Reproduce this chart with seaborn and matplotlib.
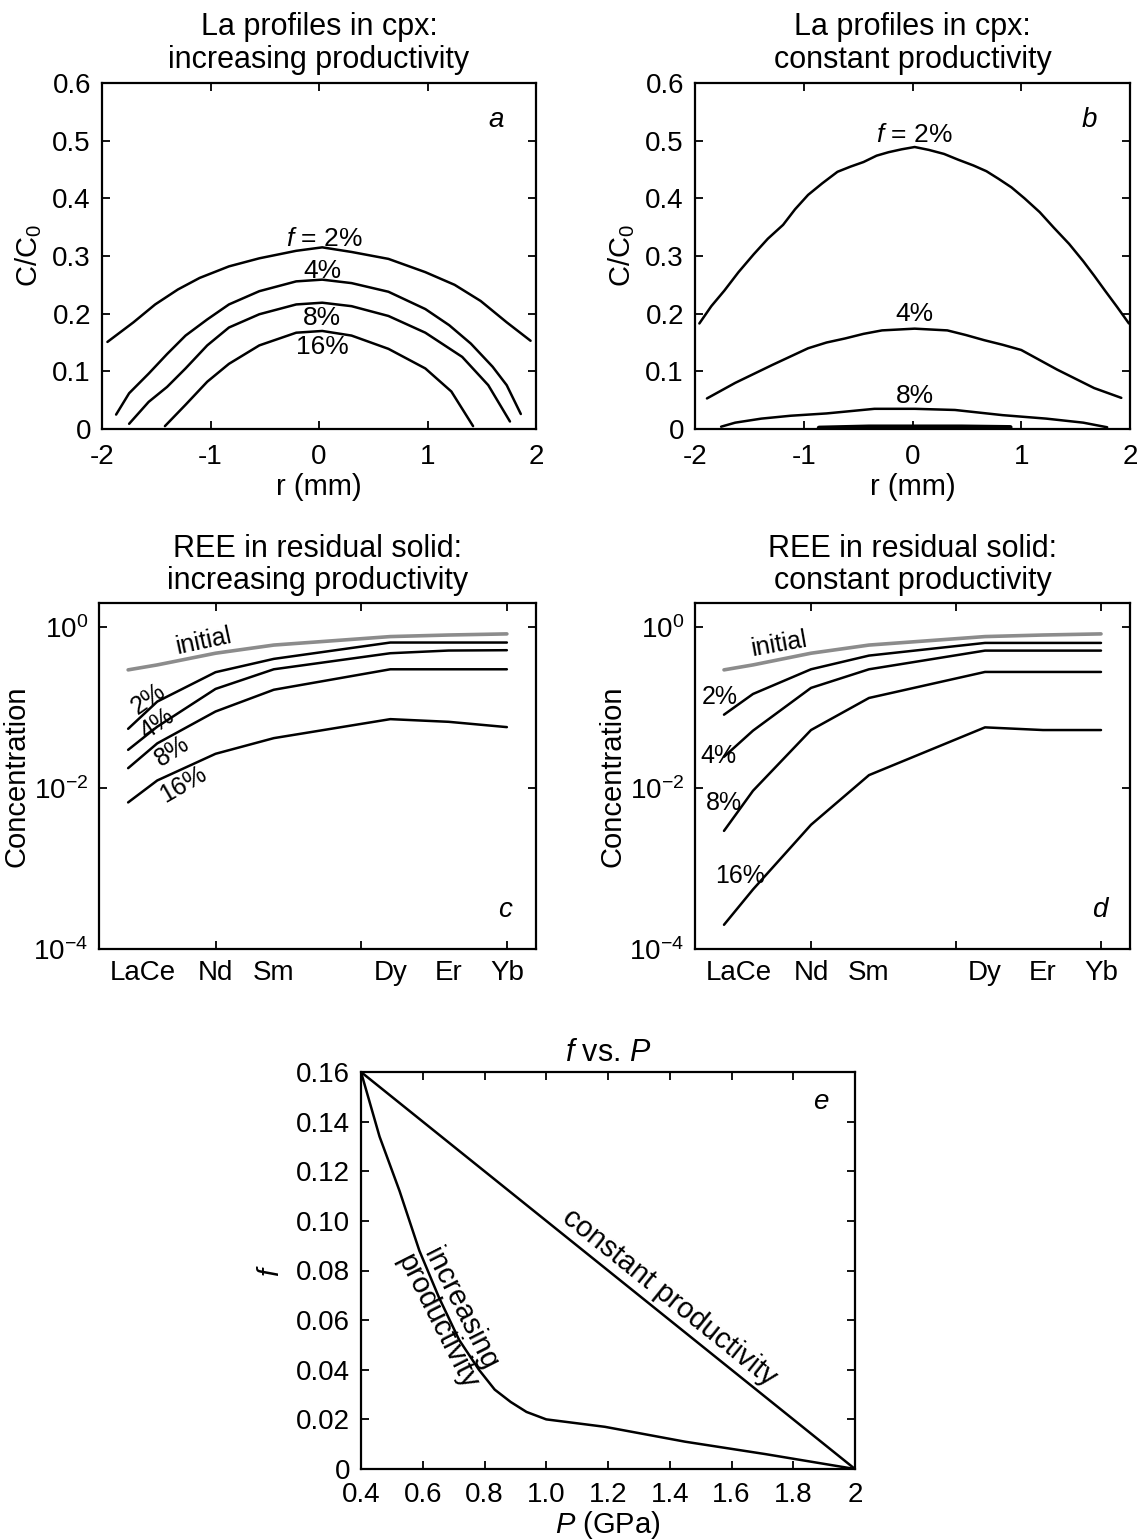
import numpy as np
import pandas as pd
import matplotlib
matplotlib.use("Agg")
import matplotlib.pyplot as plt
import seaborn as sns

# ---------------- data ----------------
# panel a: La profiles, increasing productivity
a_r_2 = [-1.95, -1.71, -1.51, -1.30, -1.10, -0.83, -0.55, -0.21, 0.03, 0.30, 0.64, 0.98, 1.25, 1.49, 1.73, 1.95]
a_c_2 = [0.151, 0.185, 0.216, 0.242, 0.262, 0.282, 0.296, 0.309, 0.315, 0.307, 0.295, 0.272, 0.250, 0.222, 0.185, 0.153]
a_r_4 = [-1.87, -1.75, -1.57, -1.40, -1.23, -1.03, -0.83, -0.55, -0.21, 0.03, 0.30, 0.64, 0.98, 1.20, 1.40, 1.60, 1.73, 1.86]
a_c_4 = [0.025, 0.062, 0.096, 0.130, 0.162, 0.190, 0.216, 0.239, 0.256, 0.259, 0.253, 0.238, 0.208, 0.180, 0.148, 0.108, 0.076, 0.026]
a_r_8 = [-1.75, -1.57, -1.40, -1.23, -1.03, -0.83, -0.55, -0.21, 0.03, 0.30, 0.64, 0.98, 1.32, 1.56, 1.76]
a_c_8 = [0.009, 0.047, 0.073, 0.105, 0.145, 0.176, 0.199, 0.216, 0.219, 0.213, 0.196, 0.167, 0.125, 0.076, 0.013]
a_r_16 = [-1.42, -1.23, -1.03, -0.83, -0.55, -0.21, 0.03, 0.30, 0.64, 0.98, 1.22, 1.42]
a_c_16 = [0.005, 0.042, 0.082, 0.113, 0.145, 0.167, 0.170, 0.162, 0.139, 0.105, 0.065, 0.005]

# panel b: La profiles, constant productivity
b_r_2 = [-1.96, -1.85, -1.73, -1.60, -1.46, -1.33, -1.19, -1.08, -0.96, -0.83, -0.69, -0.57, -0.45, -0.33, -0.22,
         -0.10, 0.02, 0.15, 0.29, 0.42, 0.56, 0.68, 0.79, 0.91, 1.03, 1.17, 1.30, 1.44, 1.57, 1.67, 1.77, 1.88, 1.99]
b_c_2 = [0.183, 0.213, 0.240, 0.272, 0.303, 0.330, 0.354, 0.381, 0.406, 0.426, 0.446, 0.455, 0.463, 0.474, 0.480,
         0.485, 0.489, 0.484, 0.477, 0.467, 0.457, 0.447, 0.434, 0.419, 0.400, 0.376, 0.349, 0.321, 0.291, 0.266, 0.240, 0.212, 0.183]
b_r_4 = [-1.89, -1.63, -1.29, -0.96, -0.79, -0.62, -0.45, -0.28, 0.02, 0.32, 0.49, 0.66, 0.83, 1.00, 1.33, 1.67, 1.92]
b_c_4 = [0.053, 0.080, 0.111, 0.140, 0.150, 0.157, 0.165, 0.171, 0.174, 0.171, 0.163, 0.154, 0.146, 0.137, 0.103, 0.071, 0.054]
b_r_8 = [-1.76, -1.63, -1.39, -1.12, -0.79, -0.35, 0.02, 0.39, 0.83, 1.23, 1.57, 1.79]
b_c_8 = [0.004, 0.011, 0.018, 0.023, 0.027, 0.035, 0.035, 0.033, 0.024, 0.018, 0.011, 0.003]
b_r_16 = [-0.86, -0.40, 0.02, 0.45, 0.90]
b_c_16 = [0.002, 0.004, 0.004, 0.004, 0.003]

# panels c, d: REE in residual solid
ree_z = [57, 58, 60, 62, 66, 68, 70]
ree_tick_pos = [57.5, 60, 62, 66, 68, 70]
ree_tick_labels = ["LaCe", "Nd", "Sm", "Dy", "Er", "Yb"]
initial = [0.295, 0.34, 0.475, 0.60, 0.765, 0.80, 0.826]
c_2 = [0.0546, 0.119, 0.276, 0.404, 0.645, 0.645, 0.645]
c_4 = [0.0299, 0.058, 0.171, 0.30, 0.475, 0.513, 0.518]
c_8 = [0.0177, 0.036, 0.0896, 0.167, 0.30, 0.30, 0.30]
c_16 = [0.00664, 0.01245, 0.0267, 0.0418, 0.072, 0.0667, 0.0573]
d_2 = [0.0818, 0.148, 0.30, 0.444, 0.638, 0.638, 0.638]
d_4 = [0.0245, 0.0518, 0.176, 0.30, 0.512, 0.512, 0.512]
d_8 = [0.00294, 0.00927, 0.0527, 0.132, 0.278, 0.278, 0.278]
d_16 = [0.0002, 0.00055, 0.0035, 0.0145, 0.0569, 0.0527, 0.0527]

# panel e: f vs P
P_inc = [0.4, 0.46, 0.525, 0.589, 0.653, 0.718, 0.782, 0.833, 0.885, 0.936, 1.0, 1.19, 1.45, 1.71, 2.0]
f_inc = [0.16, 0.134, 0.112, 0.088, 0.069, 0.052, 0.040, 0.032, 0.027, 0.023, 0.020, 0.017, 0.011, 0.006, 0.0]
P_const = [0.4, 2.0]
f_const = [0.16, 0.0]

# ---------------- style ----------------
sns.set_theme(style="ticks")
FONT = ["Liberation Sans", "DejaVu Sans"]
plt.rcParams.update({
    "font.family": FONT,
    "mathtext.fontset": "custom",
    "mathtext.rm": "Liberation Sans",
    "mathtext.it": "Liberation Sans:italic",
    "axes.unicode_minus": False,
    "axes.edgecolor": "black",
    "axes.linewidth": 1.6,
    "xtick.direction": "in",
    "ytick.direction": "in",
    "xtick.top": True,
    "ytick.right": True,
    "xtick.major.size": 6,
    "ytick.major.size": 6,
    "xtick.major.width": 1.3,
    "ytick.major.width": 1.3,
    "xtick.color": "black",
    "ytick.color": "black",
    "text.color": "black",
    "axes.labelcolor": "black",
})

TICK = 20
LAB = 21
TIT = 22
TXT = 19
LW = 1.8

fig = plt.figure(figsize=(11.41, 15.40), dpi=100)
W, H = 1141.0, 1540.0


def add_ax(x0, y0, x1, y1):
    return fig.add_axes([x0 / W, 1 - y1 / H, (x1 - x0) / W, (y1 - y0) / H])


def draw(ax, xs, ys, **kw):
    df = pd.DataFrame({"x": xs, "y": ys})
    sns.lineplot(data=df, x="x", y="y", sort=False, estimator=None, ax=ax,
                 color=kw.pop("color", "black"), lw=kw.pop("lw", LW), **kw)


def finish(ax, xpad=11):
    ax.set_xlabel("")
    ax.set_ylabel("")
    for s in ax.spines.values():
        s.set_visible(True)
    ax.tick_params(axis="x", labelsize=TICK, pad=xpad)
    ax.tick_params(axis="y", labelsize=TICK, pad=8)


# ---------- panel a ----------
ax_a = add_ax(102, 83, 536, 429)
for xs, ys in [(a_r_2, a_c_2), (a_r_4, a_c_4), (a_r_8, a_c_8), (a_r_16, a_c_16)]:
    draw(ax_a, xs, ys)
finish(ax_a)
ax_a.set_xlim(-2, 2)
ax_a.set_ylim(0, 0.6)
ax_a.set_xticks([-2, -1, 0, 1, 2], ["-2", "-1", "0", "1", "2"])
ax_a.set_yticks(np.arange(0, 0.61, 0.1), ["0", "0.1", "0.2", "0.3", "0.4", "0.5", "0.6"])
ax_a.set_xlabel("r (mm)", fontsize=LAB, labelpad=2)
ax_a.set_ylabel(r"C/C$_\mathrm{0}$", fontsize=LAB, labelpad=6)
ax_a.set_title("La profiles in cpx:\nincreasing productivity", fontsize=TIT, pad=11, linespacing=1.12)
ax_a.text(0.907, 0.893, "a", transform=ax_a.transAxes, fontsize=TICK, style="italic", ha="center", va="center")
ax_a.text(0.05, 0.330, r"$f$ = 2%", fontsize=TXT, ha="center", va="center")
ax_a.text(0.03, 0.274, "4%", fontsize=TXT, ha="center", va="center")
ax_a.text(0.03, 0.193, "8%", fontsize=TXT, ha="center", va="center")
ax_a.text(0.03, 0.142, "16%", fontsize=TXT, ha="center", va="center")

# ---------- panel b ----------
ax_b = add_ax(695, 83, 1130, 429)
for xs, ys in [(b_r_2, b_c_2), (b_r_4, b_c_4), (b_r_8, b_c_8)]:
    draw(ax_b, xs, ys)
draw(ax_b, b_r_16, b_c_16, lw=3.2)
finish(ax_b)
ax_b.set_xlim(-2, 2)
ax_b.set_ylim(0, 0.6)
ax_b.set_xticks([-2, -1, 0, 1, 2], ["-2", "-1", "0", "1", "2"])
ax_b.set_yticks(np.arange(0, 0.61, 0.1), ["0", "0.1", "0.2", "0.3", "0.4", "0.5", "0.6"])
ax_b.set_xlabel("r (mm)", fontsize=LAB, labelpad=2)
ax_b.set_ylabel(r"C/C$_\mathrm{0}$", fontsize=LAB, labelpad=6)
ax_b.set_title("La profiles in cpx:\nconstant productivity", fontsize=TIT, pad=11, linespacing=1.12)
ax_b.text(0.907, 0.893, "b", transform=ax_b.transAxes, fontsize=TICK, style="italic", ha="center", va="center")
ax_b.text(0.02, 0.510, r"$f$ = 2%", fontsize=TXT, ha="center", va="center")
ax_b.text(0.02, 0.199, "4%", fontsize=TXT, ha="center", va="center")
ax_b.text(0.02, 0.058, "8%", fontsize=TXT, ha="center", va="center")


# ---------- panels c, d ----------
def ree_axes(ax, title, letter):
    finish(ax)
    ax.set_yscale("log")
    ax.set_xlim(56, 71)
    ax.set_ylim(1e-4, 2)
    ax.xaxis.remove_overlapping_locs = False
    ax.set_xticks([60, 65, 70], ["", "", ""])
    ax.set_xticks(ree_tick_pos, ree_tick_labels, minor=True)
    ax.tick_params(axis="x", which="minor", length=0, labelsize=TICK, pad=8, top=False)
    ax.set_yticks([1e-4, 1e-2, 1e0], [r"10$^{-4}$", r"10$^{-2}$", r"10$^{0}$"])
    ax.yaxis.set_minor_locator(matplotlib.ticker.NullLocator())
    ax.set_ylabel("Concentration", fontsize=LAB, labelpad=2)
    ax.set_title(title, fontsize=TIT, pad=10, linespacing=1.08)
    ax.text(0.93, 0.113, letter, transform=ax.transAxes, fontsize=TICK, style="italic", ha="center", va="center")


ax_c = add_ax(99, 603, 536, 949)
draw(ax_c, ree_z, initial, color="#8c8c8c", lw=2.6)
for ys in [c_2, c_4, c_8, c_16]:
    draw(ax_c, ree_z, ys)
ree_axes(ax_c, "REE in residual solid:\nincreasing productivity", "c")
ax_c.text(59.6, 0.66, "initial", fontsize=TXT - 1, ha="center", va="center", rotation=12)
ax_c.text(57.7, 0.13, "2%", fontsize=TXT - 1, ha="center", va="center", rotation=35)
ax_c.text(58.0, 0.062, "4%", fontsize=TXT - 1, ha="center", va="center", rotation=35)
ax_c.text(58.5, 0.029, "8%", fontsize=TXT - 1, ha="center", va="center", rotation=33)
ax_c.text(58.9, 0.0112, "16%", fontsize=TXT - 1, ha="center", va="center", rotation=30)

ax_d = add_ax(695, 603, 1130, 949)
draw(ax_d, ree_z, initial, color="#8c8c8c", lw=2.6)
for ys in [d_2, d_4, d_8, d_16]:
    draw(ax_d, ree_z, ys)
ree_axes(ax_d, "REE in residual solid:\nconstant productivity", "d")
ax_d.text(58.9, 0.62, "initial", fontsize=TXT - 1, ha="center", va="center", rotation=10)
ax_d.text(56.87, 0.134, "2%", fontsize=TXT - 1, ha="center", va="center")
ax_d.text(56.8, 0.025, "4%", fontsize=TXT - 1, ha="center", va="center")
ax_d.text(57.0, 0.0066, "8%", fontsize=TXT - 1, ha="center", va="center")
ax_d.text(57.55, 0.00081, "16%", fontsize=TXT - 1, ha="center", va="center")

# ---------- panel e ----------
ax_e = add_ax(361, 1072, 855, 1469)
draw(ax_e, P_inc, f_inc)
draw(ax_e, P_const, f_const)
finish(ax_e, xpad=9)
ax_e.set_xlim(0.4, 2.0)
ax_e.set_ylim(0, 0.16)
ax_e.set_xticks(np.arange(0.4, 2.01, 0.2), ["0.4", "0.6", "0.8", "1.0", "1.2", "1.4", "1.6", "1.8", "2"])
ax_e.set_yticks(np.arange(0, 0.161, 0.02), ["0", "0.02", "0.04", "0.06", "0.08", "0.10", "0.12", "0.14", "0.16"])
ax_e.set_xlabel(r"$P$ (GPa)", fontsize=LAB, labelpad=1)
ax_e.set_ylabel(r"$f$", fontsize=LAB, labelpad=8)
ax_e.set_title(r"$f$ vs. $P$", fontsize=TIT, pad=8)
ax_e.text(0.93, 0.924, "e", transform=ax_e.transAxes, fontsize=TICK, style="italic", ha="center", va="center")
ax_e.text(1.40, 0.069, "constant productivity", fontsize=LAB, ha="center", va="center", rotation=-38.8,
          rotation_mode="anchor")
ax_e.text(0.685, 0.062, "increasing\nproductivity", fontsize=LAB, ha="center", va="center", rotation=-63,
          rotation_mode="anchor", linespacing=0.95)

fig.savefig("out.png", dpi=100)
